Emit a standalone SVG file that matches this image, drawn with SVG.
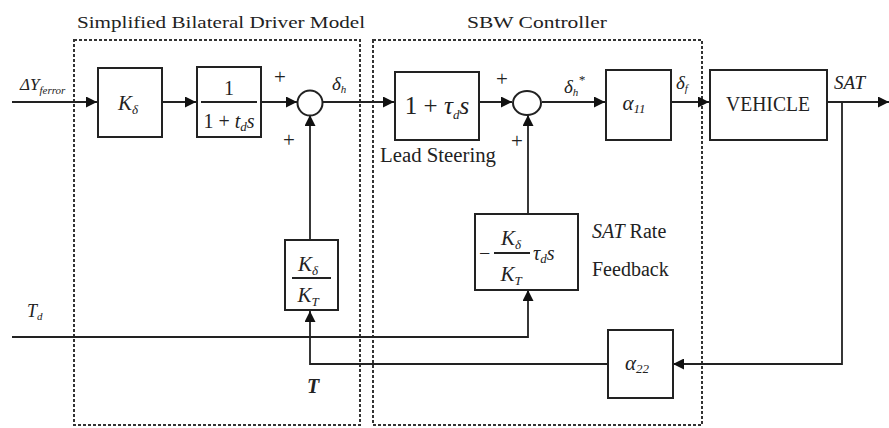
<svg xmlns="http://www.w3.org/2000/svg" width="889" height="428" viewBox="0 0 889 428">
<defs>
<marker id="ah" viewBox="0 0 10 10" refX="10" refY="5" markerWidth="11" markerHeight="11" markerUnits="userSpaceOnUse" orient="auto">
<path d="M0,0 L10,5 L0,10 z" fill="#111"/>
</marker>
<style>
.blk{fill:#fff;stroke:#222;stroke-width:2}
.dash{fill:none;stroke:#333;stroke-width:2;stroke-dasharray:3 2}
.ln{fill:none;stroke:#222;stroke-width:1.8}
.arr{fill:none;stroke:#222;stroke-width:1.8;marker-end:url(#ah)}
text{font-family:"Liberation Serif","Times New Roman",serif;fill:#222}
.ttl{font-size:17px}
.lbl{font-size:20px}
.pl{font-size:21px}
.m{font-size:21px;font-style:italic}
.sub{font-size:13px;font-style:italic}
.c{text-anchor:middle}
</style>
</defs>

<g id="regions">
<rect class="dash" x="74" y="40" width="286" height="385"/>
<rect class="dash" x="373" y="40" width="329" height="385"/>
<text class="ttl" x="77" y="28" textLength="288" lengthAdjust="spacingAndGlyphs">Simplified Bilateral Driver Model</text>
<text class="ttl" x="467" y="28" textLength="140" lengthAdjust="spacingAndGlyphs">SBW Controller</text>
</g>

<g id="connectors">
<path class="arr" d="M12,102 H97"/>
<path class="arr" d="M162,102 H196"/>
<path class="arr" d="M261,102 H297"/>
<path class="arr" d="M323,102 H394"/>
<path class="arr" d="M479,102 H512"/>
<path class="arr" d="M542,102 H605"/>
<path class="arr" d="M671,102 H709"/>
<path class="arr" d="M827,102 H889"/>
<path class="ln" d="M842,102 V364 H673"/>
<path class="arr" d="M842,364 H673"/>
<path class="arr" d="M608,364 H310 V311"/>
<path class="arr" d="M310,240 V115"/>
<path class="arr" d="M12,337 H528 V290"/>
<path class="arr" d="M528,214 V115"/>
</g>

<g id="n-input">
<text x="20" y="90" style="font-size:17px;font-style:italic">ΔY<tspan dy="4" style="font-size:11px">ferror</tspan></text>
</g>
<g id="n-td">
<text x="27" y="317" style="font-size:18px;font-style:italic">T<tspan dy="3" style="font-size:11px">d</tspan></text>
</g>

<g id="n-kd">
<rect class="blk" x="98" y="68" width="64" height="69"/>
<text class="m c" x="128" y="110">K<tspan class="sub" dy="4">δ</tspan></text>
</g>

<g id="n-lag">
<rect class="blk" x="197" y="67" width="64" height="70"/>
<text class="lbl c" x="229" y="95">1</text>
<path class="ln" d="M201,102 H257" stroke-width="1.2"/>
<text class="lbl c" x="229" y="128">1 + <tspan font-style="italic">t</tspan><tspan class="sub" dy="3">d</tspan><tspan dy="-3" font-style="italic">s</tspan></text>
</g>

<g id="n-sum1">
<circle class="blk" cx="310" cy="103" r="12.5"/>
<text class="pl c" x="280" y="84">+</text>
<text class="pl c" x="289" y="147">+</text>
<text class="m" x="332" y="90" style="font-size:19px">δ<tspan class="sub" dy="3" style="font-size:11px">h</tspan></text>
</g>

<g id="n-lead">
<rect class="blk" x="395" y="72" width="84" height="68"/>
<text class="c" x="437" y="114" style="font-size:25px">1 + <tspan font-style="italic">τ</tspan><tspan font-style="italic" dy="5" style="font-size:13px">d</tspan><tspan font-style="italic" dy="-5">s</tspan></text>
<text class="lbl" x="380" y="162" textLength="116" lengthAdjust="spacingAndGlyphs">Lead Steering</text>
</g>

<g id="n-sum2">
<ellipse class="blk" cx="527" cy="103" rx="14" ry="12"/>
<text class="pl c" x="502" y="86">+</text>
<text class="pl c" x="517" y="148">+</text>
<text class="m" x="564" y="93" style="font-size:19px">δ<tspan class="sub" dy="3" style="font-size:11px">h</tspan><tspan dy="-12" style="font-size:13px">*</tspan></text>
</g>

<g id="n-a11">
<rect class="blk" x="606" y="70" width="65" height="70"/>
<text class="m c" x="634" y="110">α<tspan class="sub" dy="3">11</tspan></text>
<text class="m" x="676" y="89" style="font-size:19px">δ<tspan class="sub" dy="3" style="font-size:11px">f</tspan></text>
</g>

<g id="n-vehicle">
<rect class="blk" x="710" y="70" width="117" height="70"/>
<text class="c" x="768" y="111" style="font-size:20px" textLength="84" lengthAdjust="spacingAndGlyphs">VEHICLE</text>
<text class="m" x="834" y="89" style="font-size:19px">SAT</text>
</g>

<g id="n-gain">
<rect class="blk" x="285" y="240" width="53" height="70"/>
<text class="m c" x="308" y="271">K<tspan class="sub" dy="4">δ</tspan></text>
<path class="ln" d="M292,278 H331" stroke-width="1.2"/>
<text class="m c" x="308" y="302">K<tspan class="sub" dy="4">T</tspan></text>
<text class="m" x="307" y="393" style="font-weight:bold;font-size:20px">T</text>
</g>

<g id="n-satrate">
<rect class="blk" x="475" y="214" width="103" height="76"/>
<text class="lbl" x="479" y="260">−</text>
<text class="m c" x="511" y="245">K<tspan class="sub" dy="4">δ</tspan></text>
<path class="ln" d="M494,253 H530" stroke-width="1.2"/>
<text class="m c" x="511" y="281">K<tspan class="sub" dy="4">T</tspan></text>
<text class="m" x="533" y="260" style="font-size:20px">τ<tspan class="sub" dy="3">d</tspan><tspan dy="-3">s</tspan></text>
<text class="lbl" x="592" y="238"><tspan font-style="italic">SAT</tspan> Rate</text>
<text class="lbl" x="592" y="276">Feedback</text>
</g>

<g id="n-a22">
<rect class="blk" x="608" y="330" width="65" height="68"/>
<text class="m c" x="637" y="370">α<tspan class="sub" dy="3">22</tspan></text>
</g>
</svg>
